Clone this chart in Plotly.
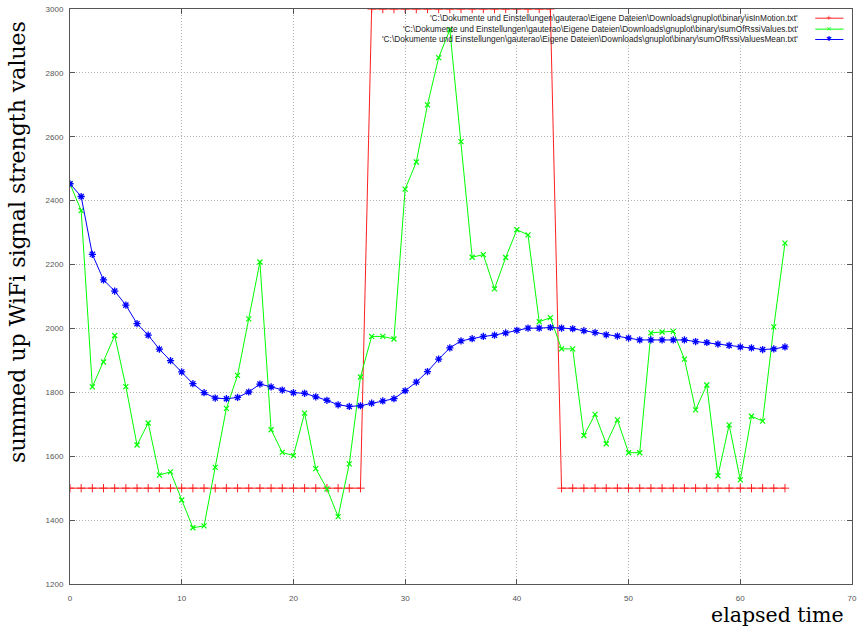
import plotly.graph_objects as go

# ---- data ----
elapsed = list(range(65))

is_in_motion = [1500] * 27 + [3000] * 17 + [1500] * 21

sum_of_rssi = [
    2453, 2369, 1817, 1895, 1978, 1818, 1635, 1704, 1541, 1551,
    1463, 1376, 1382, 1565, 1750, 1853, 2030, 2208, 1683, 1612,
    1602, 1735, 1561, 1498, 1411, 1576, 1848, 1975, 1975, 1967,
    2436, 2521, 2700, 2848, 2935, 2585, 2223, 2231, 2124, 2222,
    2309, 2293, 2021, 2034, 1936, 1936, 1665, 1731, 1639, 1714,
    1611, 1611, 1986, 1989, 1991, 1904, 1745, 1823, 1539, 1698,
    1526, 1725, 1710, 2005, 2267,
]

sum_of_rssi_mean = [
    2453, 2413, 2232, 2152, 2117, 2073, 2015, 1979, 1935, 1899,
    1864, 1827, 1799, 1782, 1780, 1784, 1801, 1826, 1817, 1807,
    1799, 1797, 1786, 1775, 1761, 1756, 1758, 1766, 1773, 1780,
    1805, 1832, 1865, 1904, 1939, 1961, 1968, 1975, 1979, 1986,
    1994, 2001, 2001, 2003, 2001, 1999, 1993, 1987, 1980, 1976,
    1970, 1964, 1964, 1964, 1964, 1964, 1959, 1956, 1951, 1947,
    1942, 1939, 1934, 1936, 1942,
]

base = "'C:\\Dokumente und Einstellungen\\gauterao\\Eigene Dateien\\Downloads\\gnuplot\\binary\\"
series_names = [base + "isInMotion.txt'", base + "sumOfRssiValues.txt'", base + "sumOfRssiValuesMean.txt'"]
series_colors = ["#ff2020", "#00ff00", "#0000ff"]
series_symbols = ["cross-thin", "x-thin", "asterisk-open"]
series_msize = [6, 5, 6]
series_mwidth = [1, 1.2, 1.3]
key_glyphs = ["+", "×", "✱"]

x_ticks = [0, 10, 20, 30, 40, 50, 60, 70]
y_ticks = [1200, 1400, 1600, 1800, 2000, 2200, 2400, 2600, 2800, 3000]

fig = go.Figure()
for ys, name, col, sym, msize, mw in zip(
    [is_in_motion, sum_of_rssi, sum_of_rssi_mean], series_names, series_colors,
    series_symbols, series_msize, series_mwidth
):
    fig.add_trace(go.Scatter(
        x=elapsed, y=ys, name=name, mode="lines+markers",
        line=dict(color=col, width=1),
        marker=dict(symbol=sym, size=msize, color=col, line=dict(color=col, width=mw)),
        showlegend=False,
    ))

tickfont = dict(family="Liberation Sans, Arial, sans-serif", size=8, color="#555555")
common = dict(
    showline=True, linecolor="#555555", linewidth=1, mirror="ticks",
    ticks="inside", ticklen=5, tickcolor="#555555",
    showgrid=True, gridcolor="#b0b0b0", griddash="1px,2px", gridwidth=1,
    zeroline=False, tickfont=tickfont, automargin=False,
)
fig.update_xaxes(range=[0, 70], tickvals=x_ticks, ticktext=[str(v) for v in x_ticks],
                 ticklabelstandoff=6, **common)
fig.update_yaxes(range=[1200, 3000], tickvals=y_ticks, ticktext=[str(v) for v in y_ticks],
                 ticklabelstandoff=4, **common)

annotations = [
    dict(text="summed up WiFi signal strength values", xref="paper", yref="paper",
         x=0, y=0.595, xanchor="center", yanchor="middle", xshift=-52, textangle=-90,
         showarrow=False, font=dict(family="DejaVu Serif", size=22, color="#000000")),
    dict(text="elapsed time", xref="paper", yref="paper",
         x=1, y=0, xanchor="right", yanchor="middle", xshift=-6, yshift=-31,
         showarrow=False, font=dict(family="DejaVu Serif", size=20.5, color="#000000")),
]
shapes = []
legend_rows = [0.984, 0.965, 0.947]
for name, col, glyph, ry in zip(series_names, series_colors, key_glyphs, legend_rows):
    annotations.append(dict(text=name, xref="paper", yref="paper", x=0.934, y=ry,
                            xanchor="right", yanchor="middle", showarrow=False,
                            font=dict(family="Liberation Sans, Arial, sans-serif", size=8.3, color="#222222")))
    shapes.append(dict(type="line", xref="paper", yref="paper", x0=0.953, x1=0.989, y0=ry, y1=ry,
                       line=dict(color=col, width=1)))
    annotations.append(dict(text=glyph, xref="paper", yref="paper", x=0.971, y=ry,
                            xanchor="center", yanchor="middle", showarrow=False,
                            font=dict(family="DejaVu Sans", size=7, color=col)))

fig.update_layout(
    width=857, height=626,
    margin=dict(l=70, r=5, t=9, b=42),
    paper_bgcolor="white", plot_bgcolor="white",
    showlegend=False,
    annotations=annotations, shapes=shapes,
)

fig.write_html("out.html")
